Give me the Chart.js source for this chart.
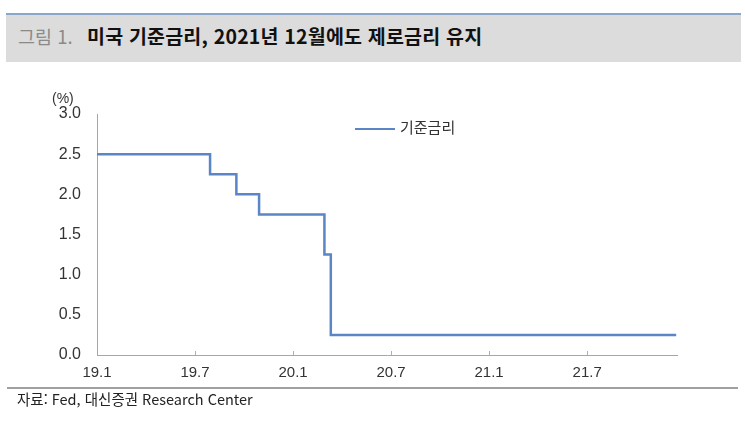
<!DOCTYPE html>
<html lang="ko">
<head>
<meta charset="utf-8">
<script src="https://cdn.jsdelivr.net/npm/chart.js@4.4.1/dist/chart.umd.min.js"></script>
<style>
  body { margin: 0; width: 745px; height: 426px; background: #fff; position: relative; overflow: hidden;
         font-family: "Noto Sans CJK KR", "Liberation Sans", sans-serif; }
  #titleBar { position: absolute; left: 6px; top: 13px; width: 735px; height: 47px; background: #dcdcdc;
              border-top: 2px solid #8aa6c8; }
  #titleBar span { position: absolute; top: 9px; font-size: 19.5px; line-height: 24px; white-space: nowrap; }
  #titleNo { left: 12px; color: #8a8a8a; font-size: 18.5px !important; }
  #titleText { left: 81px; color: #111; font-weight: bold; letter-spacing: 0.2px; }
  #unit { position: absolute; left: 52px; top: 90px; font-size: 14px; color: #333; font-family: "Liberation Sans", sans-serif; }
  #legend { position: absolute; left: 355px; top: 116px; font-size: 15px; color: #333; white-space: nowrap; }
  #legend i { display: inline-block; width: 40px; height: 0; border-top: 2px solid #5a85c6; vertical-align: middle; margin-right: 5px; }
  #srcLine { position: absolute; left: 7px; top: 387px; width: 731px; height: 0; border-top: 2px solid #a0a0a0; }
  #source { position: absolute; left: 17px; top: 388px; font-size: 14.5px; color: #222; white-space: nowrap; }
  #chartBox { position: absolute; left: 0; top: 0; width: 745px; height: 426px; }
</style>
</head>
<body>
<div id="titleBar"><span id="titleNo">그림 1.</span><span id="titleText">미국 기준금리, 2021년 12월에도 제로금리 유지</span></div>
<div id="chartBox"><canvas id="grafico"></canvas></div>
<div id="unit">(%)</div>
<div id="legend"><i></i><span id="legendLabel"></span></div>
<div id="srcLine"></div>
<div id="source">자료: Fed, 대신증권 Research Center</div>
<script>
// x = months since 2019.1
const rateMonths = [0, 6.92, 8.53, 9.92, 13.92, 14.31, 35.45];
const rateValues = [2.5, 2.25, 2.0, 1.75, 1.25, 0.25, 0.25];
const xTickPos = [0, 6, 12, 18, 24, 30];
const xTickLabels = ["19.1", "19.7", "20.1", "20.7", "21.1", "21.7"];
const yTicks = [0, 0.5, 1, 1.5, 2, 2.5, 3];
const seriesName = "기준금리";

document.getElementById('legendLabel').textContent = seriesName;

const createChart = (id) => {
    const ctx = document.getElementById(id);
    new Chart(ctx, {
        type: 'line',
        data: {
            datasets: [{
                label: seriesName,
                data: rateMonths.map((m, i) => ({ x: m, y: rateValues[i] })),
                borderColor: '#5a85c6',
                borderWidth: 2.5,
                pointRadius: 0,
                stepped: true,
                fill: false
            }]
        },
        options: {
            responsive: true,
            maintainAspectRatio: false,
            animation: false,
            layout: {
                padding: { left: 37, right: 68, top: 114, bottom: 39 }
            },
            plugins: {
                legend: { display: false },
                tooltip: { enabled: false }
            },
            scales: {
                x: {
                    type: 'linear',
                    min: 0,
                    max: 35.5,
                    afterBuildTicks: (scale) => {
                        scale.ticks = xTickPos.map(v => ({ value: v }));
                    },
                    afterFit: (scale) => { scale.height = 32; },
                    ticks: {
                        autoSkip: false,
                        maxRotation: 0,
                        padding: 13,
                        color: '#333',
                        font: { family: 'Liberation Sans', size: 15 },
                        callback: (v) => xTickLabels[xTickPos.indexOf(v)]
                    },
                    grid: {
                        drawOnChartArea: false,
                        tickLength: -4,
                        color: '#b0b0b0'
                    },
                    border: { color: '#a6a6a6', width: 1 }
                },
                y: {
                    min: 0,
                    max: 3,
                    afterBuildTicks: (scale) => {
                        scale.ticks = yTicks.map(v => ({ value: v }));
                    },
                    afterFit: (scale) => { scale.width = 60; },
                    ticks: {
                        padding: 16,
                        color: '#333',
                        font: { family: 'Liberation Sans', size: 16 },
                        callback: (v) => v.toFixed(1)
                    },
                    grid: { display: false, drawTicks: false },
                    border: { color: '#a6a6a6', width: 1 }
                }
            }
        }
    });
}

createChart('grafico');
</script>
</body>
</html>
